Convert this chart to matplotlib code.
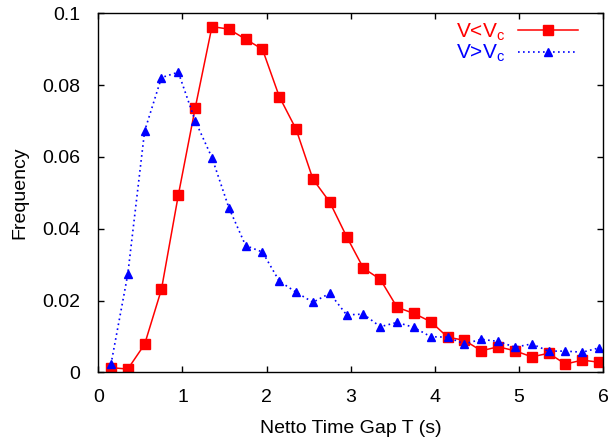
import matplotlib
matplotlib.use("Agg")
import matplotlib.pyplot as plt

plt.rcParams['font.family'] = ['Liberation Sans', 'DejaVu Sans']
plt.rcParams['mathtext.fontset'] = 'custom'
plt.rcParams['mathtext.rm'] = 'Liberation Sans'
plt.rcParams['mathtext.it'] = 'Liberation Sans'

gap_t = [0.15, 0.35, 0.55, 0.75, 0.95, 1.15, 1.35, 1.55, 1.75, 1.95,
         2.15, 2.35, 2.55, 2.75, 2.95, 3.15, 3.35, 3.55, 3.75, 3.95,
         4.15, 4.35, 4.55, 4.75, 4.95, 5.15, 5.35, 5.55, 5.75, 5.95]
freq_slow = [0.0013, 0.0009, 0.0078, 0.0231, 0.0493, 0.0735, 0.0963, 0.0956, 0.0928, 0.0900,
             0.0768, 0.0677, 0.0538, 0.0474, 0.0378, 0.0290, 0.0259, 0.0181, 0.0164, 0.0141,
             0.0098, 0.0089, 0.0060, 0.0071, 0.0060, 0.0043, 0.0053, 0.0023, 0.0034, 0.0028]
freq_fast = [0.0022, 0.0273, 0.0672, 0.0821, 0.0836, 0.0701, 0.0598, 0.0459, 0.0353, 0.0335,
             0.0254, 0.0223, 0.0195, 0.0220, 0.0160, 0.0162, 0.0127, 0.0139, 0.0125, 0.0099,
             0.0098, 0.0079, 0.0092, 0.0086, 0.0070, 0.0079, 0.0059, 0.0059, 0.0056, 0.0068]
labels = [r'V<V$_\mathrm{c}$', r'V>V$_\mathrm{c}$']
x_ticks = [0, 1, 2, 3, 4, 5, 6]
y_ticks = [0, 0.02, 0.04, 0.06, 0.08, 0.1]
y_tick_labels = ['0', '0.02', '0.04', '0.06', '0.08', '0.1']

fig = plt.figure(figsize=(6.13, 4.38), dpi=100)
ax = fig.add_axes([0.1604, 0.150, 0.8238, 0.8196])

ax.plot(gap_t, freq_slow, color='#ff0000', lw=1.1, marker='s', ms=7.5,
        label=labels[0])
ax.plot(gap_t, freq_fast, color='#0000ff', lw=1.2, ls=(0, (1, 2)), marker='^', ms=5.5,
        label=labels[1])

ax.set_xlim(0, 6)
ax.set_ylim(0, 0.1)
ax.set_xticks(x_ticks)
ax.set_xticklabels([str(v) for v in x_ticks])
ax.set_yticks(y_ticks)
ax.set_yticklabels(y_tick_labels)
ax.tick_params(direction='in', length=4, width=1, top=True, right=True,
               labelsize=14)
ax.tick_params(axis='x', pad=12)
ax.tick_params(axis='y', pad=13)
for s in ax.spines.values():
    s.set_linewidth(1)

ax.set_xlabel('Netto Time Gap T (s)', fontsize=14, labelpad=10)
ax.set_ylabel('Frequency', fontsize=14, labelpad=10)

leg = ax.legend(loc='upper right', frameon=False, markerfirst=False,
                labelcolor='linecolor', fontsize=15, handlelength=2.9,
                handletextpad=0.6, labelspacing=0.0, borderaxespad=0.2,
                bbox_to_anchor=(0.975, 1.012))

fig.savefig('out.png', dpi=100)
